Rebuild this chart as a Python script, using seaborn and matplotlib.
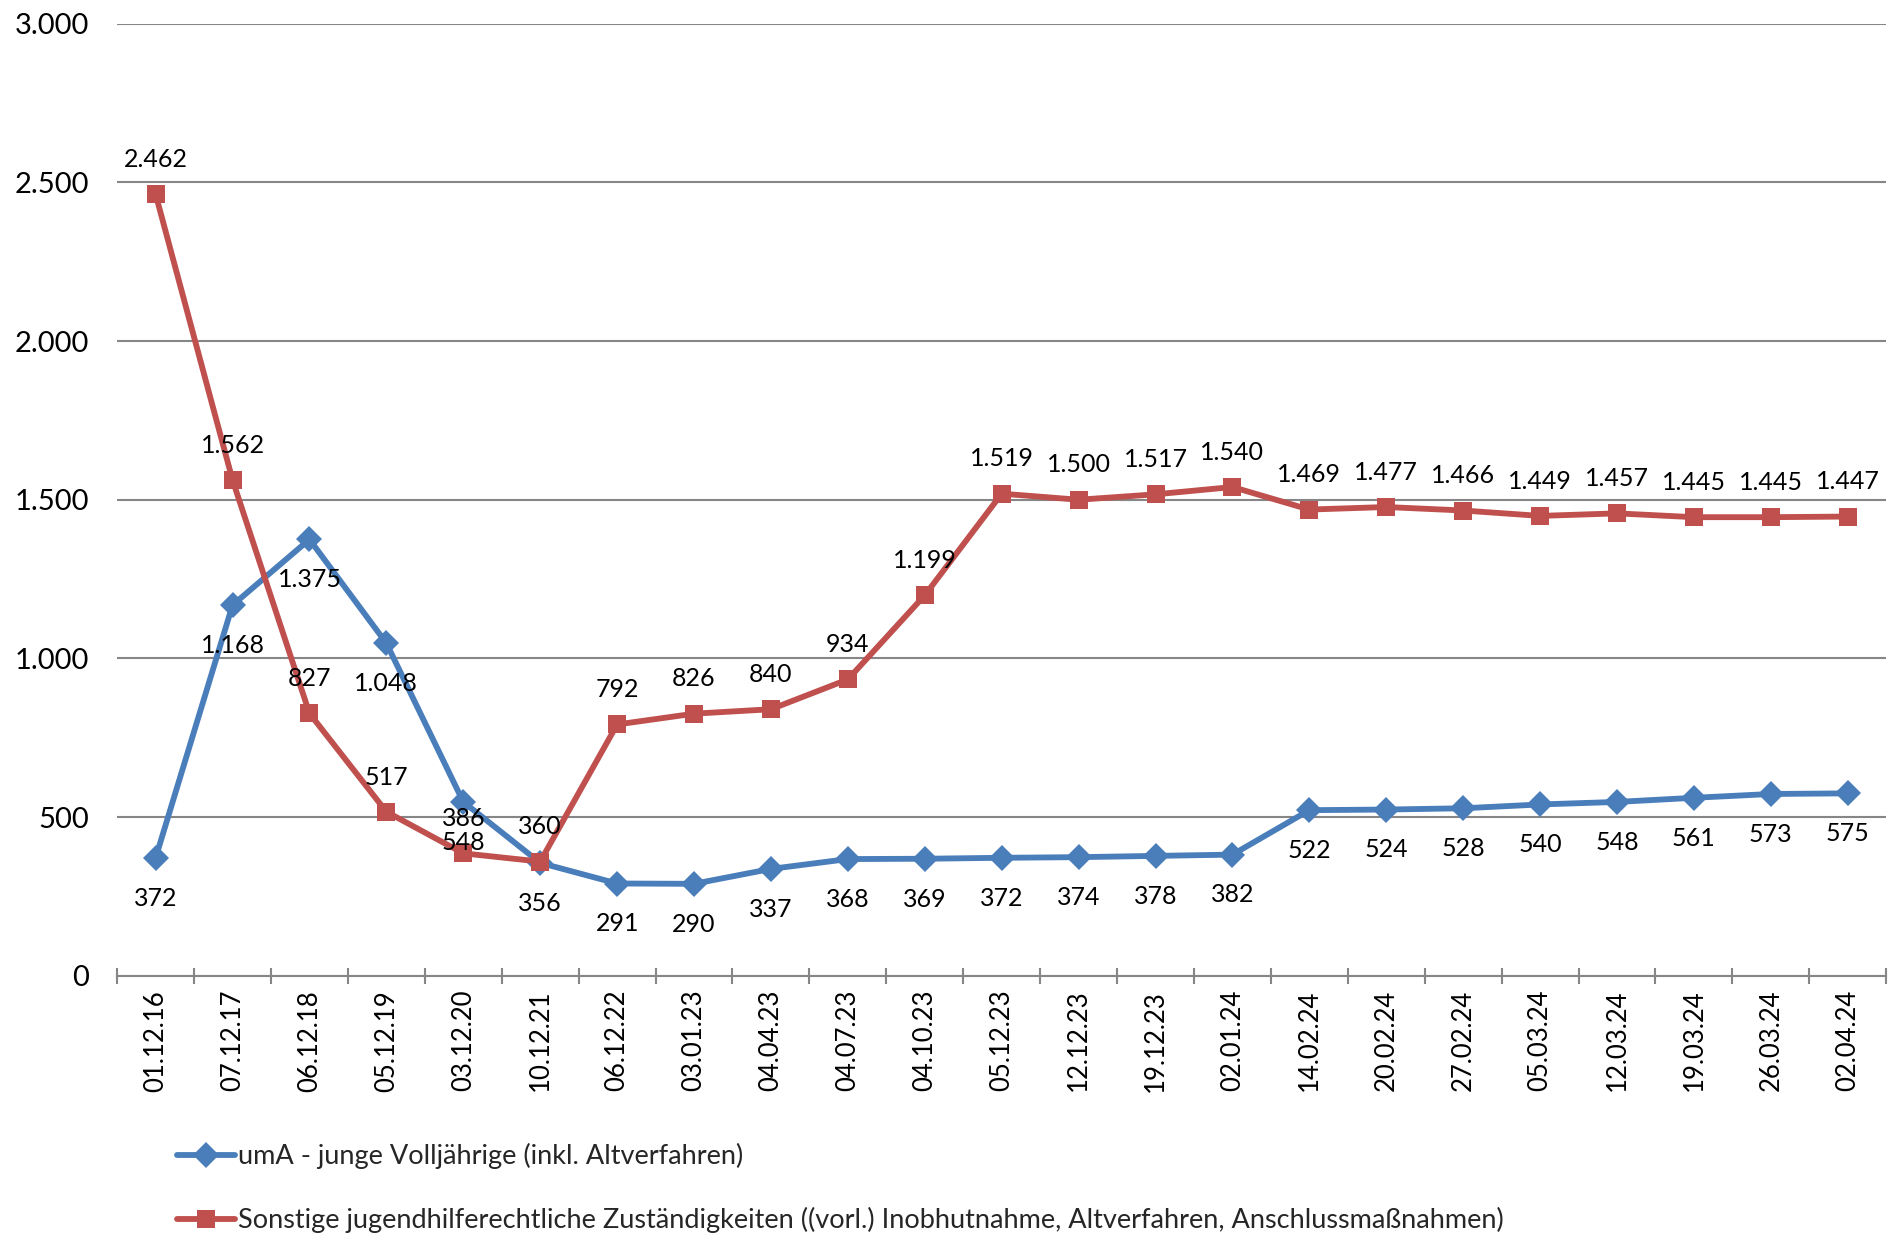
import matplotlib
matplotlib.use("Agg")
import matplotlib.pyplot as plt
import seaborn as sns
import pandas as pd
from matplotlib.ticker import FuncFormatter, FixedLocator

dates = ["01.12.16", "07.12.17", "06.12.18", "05.12.19", "03.12.20", "10.12.21",
         "06.12.22", "03.01.23", "04.04.23", "04.07.23", "04.10.23", "05.12.23",
         "12.12.23", "19.12.23", "02.01.24", "14.02.24", "20.02.24", "27.02.24",
         "05.03.24", "12.03.24", "19.03.24", "26.03.24", "02.04.24"]
uma = [372, 1168, 1375, 1048, 548, 356, 291, 290, 337, 368, 369, 372, 374, 378,
       382, 522, 524, 528, 540, 548, 561, 573, 575]
sonstige = [2462, 1562, 827, 517, 386, 360, 792, 826, 840, 934, 1199, 1519, 1500,
            1517, 1540, 1469, 1477, 1466, 1449, 1457, 1445, 1445, 1447]
name_uma = "umA - junge Volljährige (inkl. Altverfahren)"
name_son = "Sonstige jugendhilferechtliche Zuständigkeiten ((vorl.) Inobhutnahme, Altverfahren, Anschlussmaßnahmen)"

sns.set_theme(style="white")
plt.rcParams["font.family"] = ["Lato", "DejaVu Sans"]

df = pd.DataFrame({
    "Datum": dates * 2,
    "Wert": uma + sonstige,
    "Serie": [name_uma] * len(dates) + [name_son] * len(dates),
})

fig = plt.figure(figsize=(18.9, 12.4), dpi=100)
ax = fig.add_axes([0.062, 0.213, 0.936, 0.768])

blue = "#4A7EBB"
red = "#C0504D"
sns.lineplot(data=df, x="Datum", y="Wert", hue="Serie", style="Serie",
             palette={name_uma: blue, name_son: red},
             markers={name_uma: "D", name_son: "s"}, dashes=False,
             linewidth=4.2, markersize=13, markeredgewidth=0, sort=False,
             ax=ax, legend=True)

ax.set_ylim(0, 3000)
ax.set_xlim(-0.5, len(dates) - 0.5)
ax.set_yticks(range(0, 3001, 500))
ax.yaxis.set_major_formatter(FuncFormatter(lambda v, p: f"{int(v):,}".replace(",", ".")))
ax.grid(axis="y", color="#868686", linewidth=1.5)
ax.grid(axis="x", visible=False)
ax.set_axisbelow(True)
for s in ["top", "right", "left"]:
    ax.spines[s].set_visible(False)
ax.spines["bottom"].set_color("#868686")
ax.spines["bottom"].set_linewidth(1.5)
ax.set_xlabel("")
ax.set_ylabel("")

ax.set_xticks(range(len(dates)))
ax.set_xticklabels(dates, rotation=90, fontsize=18.5, color="black")
ax.tick_params(axis="x", which="major", length=0, pad=10)
ax.xaxis.set_minor_locator(FixedLocator([i - 0.5 for i in range(len(dates) + 1)]))
ax.tick_params(axis="x", which="minor", direction="inout", length=11, width=1.5,
               color="#868686", bottom=True)
ax.tick_params(axis="y", length=0, pad=20, labelsize=21, labelcolor="black")

fmt = lambda v: f"{v:,}".replace(",", ".")
for i, (b, r) in enumerate(zip(uma, sonstige)):
    ax.annotate(fmt(b), (i, b), xytext=(0, -29), textcoords="offset points",
                ha="center", va="center", fontsize=18, color="black")
    ax.annotate(fmt(r), (i, r), xytext=(0, 25), textcoords="offset points",
                ha="center", va="center", fontsize=18, color="black")

handles, labels = ax.get_legend_handles_labels()
ax.legend_.remove()
fig.legend(handles, labels, loc="upper left", bbox_to_anchor=(0.088, 0.087),
           frameon=False, fontsize=19.5, handlelength=2.15, handletextpad=0.1,
           labelspacing=1.4, borderaxespad=0)

fig.savefig("out.png", dpi=100)
